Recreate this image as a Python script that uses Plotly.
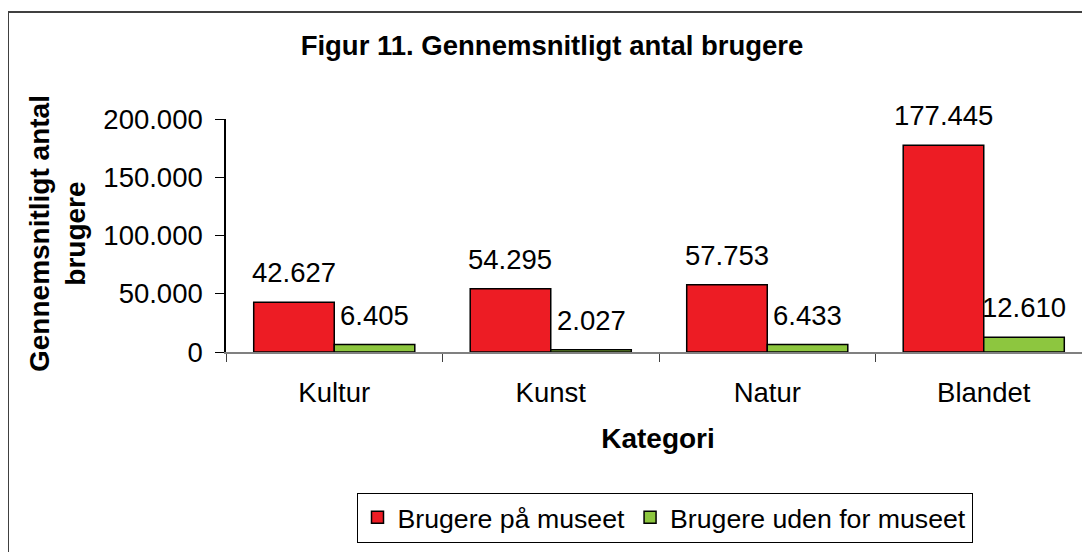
import plotly.graph_objects as go

categories = ["Kultur", "Kunst", "Natur", "Blandet"]
series_names = ["Brugere på museet", "Brugere uden for museet"]
paa_museet = [42627, 54295, 57753, 177445]
uden_for = [6405, 2027, 6433, 12610]
y_ticks = [0, 50000, 100000, 150000, 200000]

FONT = "Liberation Sans, Arial, sans-serif"
OFF = 8  # default page body margin
W, H = 1090 - OFF, 552 - OFF
# plot area in screenshot pixels: x 226..1092, y 119..352
L = 226 - OFF
T = 119 - OFF
B = H - (352 - OFF)
PW = W - L
PH = H - T - B
CAT_W = 216.5


def px_x(p):
    return (p - OFF - L) / PW


def px_y(p):
    return (352 - p) / PH


fig = go.Figure()
fig.add_bar(x=categories, y=paa_museet, name=series_names[0],
            marker=dict(color="#ED1C24", line=dict(color="black", width=1.5)))
fig.add_bar(x=categories, y=uden_for, name=series_names[1],
            marker=dict(color="#8DC63F", line=dict(color="black", width=1.5)))

bar_w = CAT_W * (1 - 0.256) / 2
annotations = []
for vals, shift in ((paa_museet, -bar_w / 2), (uden_for, bar_w / 2)):
    for c, v in zip(categories, vals):
        annotations.append(dict(
            x=c, y=v, xref="x", yref="y", text=f"{v:,}".replace(",", "."),
            showarrow=False, xshift=shift, yshift=12, yanchor="bottom",
            font=dict(family=FONT, size=27.5, color="black")))

annotations.append(dict(
    x=px_x(57), y=px_y(234), xref="paper", yref="paper",
    text="<b>Gennemsnitligt antal<br>brugere</b>", textangle=-90,
    showarrow=False, xanchor="center", yanchor="middle",
    font=dict(family=FONT, size=28, color="black")))

fig.update_layout(
    width=W, height=H,
    margin=dict(l=L, r=0, t=T, b=B),
    paper_bgcolor="white", plot_bgcolor="white",
    separators=",.",
    barmode="group", bargap=0.256, bargroupgap=0,
    title=dict(text="<b>Figur 11. Gennemsnitligt antal brugere</b>",
               x=(552 - OFF) / W, y=1 - (45 - OFF) / H,
               xanchor="center", yanchor="middle",
               xref="container", yref="container",
               font=dict(family=FONT, size=27.5, color="black")),
    showlegend=True,
    legend=dict(orientation="h", x=px_x(664.5), y=px_y(517.5),
                xanchor="center", yanchor="middle",
                bordercolor="black", borderwidth=1, bgcolor="white",
                font=dict(family=FONT, size=26.7, color="black"),
                itemwidth=30, tracegroupgap=0),
    annotations=annotations,
    shapes=[
        dict(type="line", xref="paper", yref="paper",
             x0=px_x(8), x1=px_x(1100), y0=px_y(12), y1=px_y(12),
             line=dict(color="#404040", width=2)),
        dict(type="line", xref="paper", yref="paper",
             x0=px_x(8), x1=px_x(8), y0=px_y(12), y1=px_y(560),
             line=dict(color="#404040", width=2)),
    ],
)

fig.update_xaxes(
    range=[-0.5, -0.5 + PW / CAT_W],
    showline=True, linecolor="#808080", linewidth=1.5,
    ticks="outside", tickson="boundaries", ticklen=8, tickcolor="#404040",
    tickfont=dict(family=FONT, size=27.5, color="black"),
    ticklabelstandoff=15,
    showgrid=False, zeroline=False,
    title=dict(text="<b>Kategori</b>", standoff=22,
               font=dict(family=FONT, size=28, color="black")),
)
fig.update_yaxes(
    range=[0, 200000], tickvals=y_ticks, tickformat=",d",
    showline=True, linecolor="black", linewidth=1.5,
    ticks="outside", ticklen=9, tickcolor="black",
    tickfont=dict(family=FONT, size=27.5, color="black"),
    ticklabelstandoff=7,
    showgrid=False, zeroline=False,
)

fig.write_html("out.html")
